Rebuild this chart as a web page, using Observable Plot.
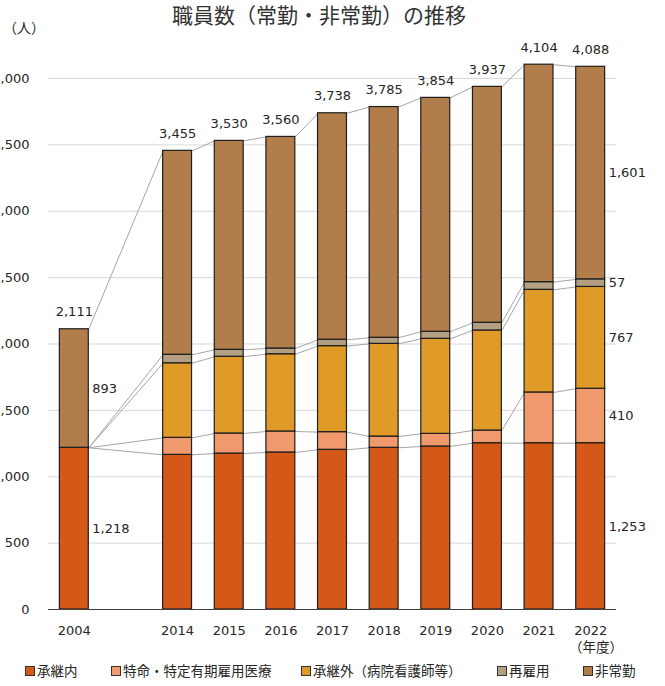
<!DOCTYPE html>
<html>
<head>
<meta charset="utf-8">
<script src="https://cdn.jsdelivr.net/npm/d3@7"></script>
<script src="https://cdn.jsdelivr.net/npm/@observablehq/plot@0.6"></script>
<style>
  html, body { margin: 0; padding: 0; background: #fff; overflow: hidden; }
  #wrap { position: relative; width: 665px; height: 686px; font-family: "DejaVu Sans", "Noto Sans CJK JP", sans-serif; color: #262626; }
  #chart { position: absolute; left: -22px; top: 0; }
  .abs { position: absolute; white-space: nowrap; line-height: 1; }
  #title { left: 172px; top: 6px; font-size: 21px; color: #333; }
  #unit { left: 3px; top: 21px; font-size: 14px; }
  #nendo { left: 569px; top: 641px; font-size: 13.5px; }
  .leg { position: absolute; top: 665px; font-size: 13.5px; line-height: 1; white-space: nowrap; }
  .leg span.sw { display: inline-block; width: 8px; height: 8px; border: 1px solid #333; margin-right: 2px; vertical-align: 0px; }
</style>
</head>
<body>
<div id="wrap">
  <div id="chart"></div>
  <div id="title" class="abs">職員数（常勤・非常勤）の推移</div>
  <div id="unit" class="abs">（人）</div>
  <div id="nendo" class="abs">（年度）</div>
  <div id="legend"></div>
</div>
<script>
// ---- data ----
const slots = ["2004", "", "2014", "2015", "2016", "2017", "2018", "2019", "2020", "2021", "2022"];
const years = ["2004", "2014", "2015", "2016", "2017", "2018", "2019", "2020", "2021", "2022"];
const seriesNames = ["承継内", "特命・特定有期雇用医療", "承継外（病院看護師等）", "再雇用", "非常勤"];
const shokeinai = [1218, 1165, 1175, 1183, 1203, 1218, 1228, 1253, 1253, 1253];
const tokumei   = [0, 128, 151, 158, 133, 85, 95, 95, 382, 410];
const shokeigai = [0, 562, 578, 582, 648, 698, 716, 754, 773, 767];
const saikoyo   = [0, 64, 52, 43, 48, 46, 53, 58, 58, 57];
const hijokin   = [893, 1536, 1574, 1594, 1706, 1738, 1762, 1777, 1638, 1601];
const totals    = [2111, 3455, 3530, 3560, 3738, 3785, 3854, 3937, 4104, 4088];
const yTicks = [0, 500, 1000, 1500, 2000, 2500, 3000, 3500, 4000];
const colors = ["#D45817", "#F0996C", "#E09A28", "#B3A083", "#B07D4B"];

const seriesValues = [shokeinai, tokumei, shokeigai, saikoyo, hijokin];
const half = 0.28; // half bar width in slot units
const fmt = d3.format(",");

// build stacked rows
const rows = [];
const tops = seriesNames.map(() => []);
years.forEach((yr, i) => {
  let cum = 0;
  const slot = slots.indexOf(yr);
  seriesNames.forEach((s, k) => {
    const v = seriesValues[k][i];
    const y1 = cum, y2 = cum + v;
    cum = y2;
    tops[k].push(y2);
    rows.push({year: yr, slot, series: s, value: v, y1, y2, mid: (y1 + y2) / 2});
  });
});
const bars = rows.filter(d => d.value > 0);

// series lines between neighbouring bars
const links = [];
seriesNames.forEach((s, k) => {
  for (let i = 0; i < years.length - 1; i++) {
    links.push({
      x1: slots.indexOf(years[i]) + half, y1: tops[k][i],
      x2: slots.indexOf(years[i + 1]) - half, y2: tops[k][i + 1]
    });
  }
});

const totalRows = years.map((yr, i) => ({slot: slots.indexOf(yr), total: totals[i]}));
const sideLabels = bars.filter(d => d.year === "2004" || d.year === "2022");

const chart = Plot.plot({
  width: 687,
  height: 645,
  marginLeft: 70,
  marginRight: 49,
  marginTop: 78,
  marginBottom: 36,
  style: {fontFamily: "'DejaVu Sans', 'Noto Sans CJK JP', sans-serif", fontSize: "13px", color: "#262626", background: "transparent"},
  x: {domain: [-0.5, slots.length - 0.5], axis: null},
  y: {domain: [0, 4000], axis: null},
  color: {domain: seriesNames, range: colors},
  marks: [
    Plot.ruleY(yTicks.filter(t => t > 0), {stroke: "#d9d9d9", strokeWidth: 1}),
    Plot.axisY(yTicks, {tickSize: 0, tickPadding: 19, tickFormat: fmt, fontSize: 13, fill: "#262626", label: null}),
    Plot.axisX(years.map(y => slots.indexOf(y)), {tickSize: 0, tickPadding: 16, tickFormat: i => slots[i], fontSize: 13, fill: "#262626", label: null}),
    Plot.link(links, {x1: "x1", y1: "y1", x2: "x2", y2: "y2", stroke: "#a6a6a6", strokeWidth: 1}),
    Plot.rect(bars, {x1: d => d.slot - half, x2: d => d.slot + half, y1: "y1", y2: "y2", fill: "series", stroke: "#1e1e1e", strokeWidth: 1.2}),
    Plot.ruleY([0], {stroke: "#404040", strokeWidth: 1.2}),
    Plot.text(totalRows, {x: "slot", y: "total", text: d => fmt(d.total), dy: -17, lineAnchor: "middle", fontSize: 13, fill: "#262626"}),
    Plot.text(sideLabels, {x: "slot", y: "mid", text: d => fmt(d.value), dx: 18, textAnchor: "start", lineAnchor: "middle", fontSize: 13, fill: "#262626"})
  ]
});
document.getElementById("chart").appendChild(chart);

// legend
const legendLeft = [25, 111, 301, 497, 583];
const legend = document.getElementById("legend");
seriesNames.forEach((s, k) => {
  const el = document.createElement("div");
  el.className = "leg";
  el.style.left = legendLeft[k] + "px";
  el.innerHTML = `<span class="sw" style="background:${colors[k]}"></span>${s}`;
  legend.appendChild(el);
});
</script>
</body>
</html>
